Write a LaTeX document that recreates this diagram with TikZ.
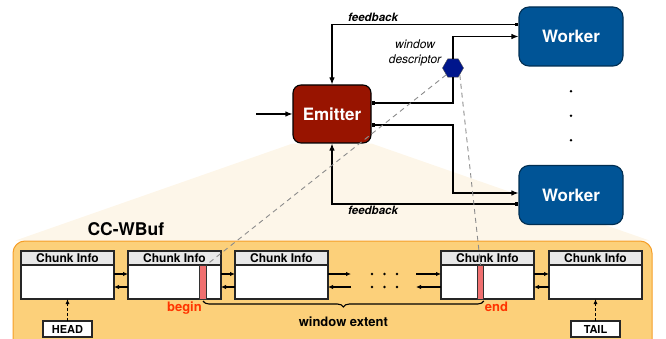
\documentclass[tikz,border=0pt]{standalone}
\usepackage{fontspec}
\setmainfont{TeX Gyre Heros}
\usetikzlibrary{arrows.meta,positioning,shapes.geometric,decorations.pathreplacing,backgrounds,calc}
\definecolor{emitred}{RGB}{152,20,0}
\definecolor{workblue}{RGB}{0,84,150}
\definecolor{descblue}{RGB}{0,22,140}
\definecolor{buforange}{RGB}{252,208,122}
\definecolor{bufline}{RGB}{245,158,40}
\definecolor{fanbeige}{RGB}{253,246,233}
\definecolor{barred}{RGB}{240,112,112}
\definecolor{tagred}{RGB}{255,52,0}
\definecolor{headgray}{RGB}{232,232,232}
\tikzset{
  box/.style={draw=black, line width=1.1pt, rounded corners=8pt, text=white,
    font=\fontsize{17}{20}\selectfont\bfseries, inner sep=0pt},
  emit/.style={box, fill=emitred, minimum width=78pt, minimum height=58pt},
  work/.style={box, fill=workblue, draw=workblue!55!black, rounded corners=10pt,
    minimum width=104pt, minimum height=59pt},
  fbtext/.style={font=\fontsize{11.5}{13}\selectfont\bfseries\itshape, inner sep=2pt},
  desclabel/.style={font=\fontsize{12}{15}\selectfont\itshape, align=center},
  arrow/.style={line width=1.1pt, -{Latex[length=7pt,width=5.5pt]}},
  sqarrow/.style={line width=1.1pt, {Square[length=3.5pt,width=3.5pt]}-{Latex[length=7pt,width=5.5pt]}},
  sqline/.style={line width=1.1pt, {Square[length=3.5pt,width=3.5pt]}-},
  link/.style={line width=1.1pt, -{Latex[length=5pt,width=4.5pt]}},
  pointer/.style={draw=black!45, line width=0.9pt, dash pattern=on 5pt off 4pt},
  buffer/.style={draw=bufline, fill=buforange, line width=1pt, rounded corners=12pt,
    minimum width=639pt, minimum height=114pt},
  chunkhead/.style={draw=black!85, fill=headgray, line width=1.1pt, minimum width=93pt,
    minimum height=14pt, inner sep=0pt, outer sep=0pt, font=\fontsize{12}{12}\selectfont\bfseries},
  chunkbody/.style={draw=black!85, fill=white, line width=1.1pt, minimum width=93pt,
    minimum height=34pt, inner sep=0pt, outer sep=0pt},
  redbar/.style={draw=black!80, fill=barred, line width=0.9pt, minimum width=6.5pt,
    minimum height=34pt, inner sep=0pt, outer sep=0pt},
  tag/.style={text=tagred, font=\fontsize{13}{13}\selectfont\bfseries, inner sep=1pt},
  ptrbox/.style={draw=black!85, fill=white, line width=1.1pt, minimum width=49pt,
    minimum height=16pt, inner sep=0pt, outer sep=0pt, font=\fontsize{11}{11}\selectfont\bfseries},
  ptrarrow/.style={line width=1pt, densely dashed, -{Latex[length=5pt,width=4pt]}},
  title/.style={font=\fontsize{17.5}{18}\selectfont\bfseries}
}

\begin{document}
\begin{tikzpicture}[x=1pt, y=-1pt]
  \clip (0,0) rectangle (666,339);

  % buffer and the part that belongs to the emitter
  \node[buffer] (buf) at (332.5,298) {};
  \node[title, anchor=west] (title) at (84,229) {CC-WBuf};

  % farm
  \node[emit] (emitter) at (332,114) {Emitter};
  \node[work] (worker1) at (571,36.5) {Worker};
  \node[work] (worker2) at (571,195) {Worker};
  \node[regular polygon, regular polygon sides=6, fill=descblue, draw=black!70,
        minimum size=21pt, inner sep=0pt] (desc) at (453,68) {};
  \node[desclabel] (desctext) at (415,53) {window\\descriptor};

  \begin{scope}[on background layer]
    \fill[fanbeige] (emitter.south west) -- (emitter.south east)
      -- ([xshift=-3pt]buf.north east) -- ([xshift=3pt]buf.north west) -- cycle;
  \end{scope}

  \coordinate (src) at (256,114);
  \draw[arrow] (src) -- (emitter.west);

  \draw[sqline] ([yshift=11pt]emitter.east) -| (desc.south);
  \draw[arrow] (desc.north) |- (worker1.west);
  \coordinate (w2in) at ([yshift=2pt]worker2.west);
  \draw[sqarrow] ([yshift=-11pt]emitter.east) -| (desc |- w2in) -- (w2in);

  \draw[sqarrow] ([yshift=12pt]worker1.west) -| (emitter.north)
    node[pos=0.39, above, fbtext] (fbtop) {feedback};
  \draw[sqarrow] ([yshift=-9pt]worker2.west) -| (emitter.south)
    node[pos=0.39, below, fbtext] (fbbot) {feedback};

  \coordinate (wgap) at ($(worker1.south)!0.5!(worker2.north)$);
  \foreach \dy in {24.5,0,-24.5}
    \fill ([yshift=\dy pt]wgap) circle (1.3pt);

  % chunks
  \node[chunkhead] (h1) at (67.5,258) {Chunk Info};
  \node[chunkhead, right=14pt of h1] (h2) {Chunk Info};
  \node[chunkhead, right=14pt of h2] (h3) {Chunk Info};
  \node[chunkhead, right=113pt of h3] (h4) {Chunk Info};
  \node[chunkhead, right=15pt of h4] (h5) {Chunk Info};
  \foreach \i in {1,...,5}
    \node[chunkbody, below=0pt of h\i] (b\i) {};

  \foreach \a/\b in {1/2,2/3,4/5}{
    \draw[link] ([yshift=8pt]b\a.east) -- ([yshift=8pt]b\b.west);
    \draw[link] ([yshift=-5pt]b\b.west) -- ([yshift=-5pt]b\a.east);
  }
  \coordinate (gapl) at ([xshift=23pt]b3.east);
  \coordinate (gapr) at ([xshift=-25pt]b4.west);
  \draw[link] ([yshift=8pt]b3.east) -- ([yshift=8pt]gapl);
  \draw[link] ([yshift=-5pt]gapl) -- ([yshift=-5pt]b3.east);
  \draw[link] ([yshift=8pt]gapr) -- ([yshift=8pt]b4.west);
  \draw[link] ([yshift=-5pt]b4.west) -- ([yshift=-5pt]gapr);
  \coordinate (gap) at ($(b3.east)!0.5!(b4.west)$);
  \foreach \dx in {-12.5,0,12.5}{
    \fill ([xshift=\dx pt,yshift=8pt]gap) circle (1.3pt);
    \fill ([xshift=\dx pt,yshift=-5pt]gap) circle (1.3pt);
  }

  % window
  \node[redbar, anchor=north] (bar1) at ([xshift=75pt]b2.north west) {};
  \node[redbar, anchor=north] (bar2) at ([xshift=39.5pt]b4.north west) {};
  \node[tag, anchor=north east] (begintag) at ([yshift=-2pt]bar1.south) {begin};
  \node[tag, anchor=north west] (endtag) at ([yshift=-2pt]bar2.south east) {end};
  \draw[line width=1.1pt, decorate, decoration={brace, mirror, amplitude=6pt}]
    ([yshift=-2pt]bar1.south) -- ([yshift=-2pt]bar2.south east);
  \path (bar1.south) -- (bar2.south east)
    node[midway, yshift=-23pt, font=\fontsize{13}{13}\selectfont\bfseries] (extent) {window extent};

  % head / tail
  \node[ptrbox, below=22pt of b1] (head) {HEAD};
  \node[ptrbox, below=22pt of b5] (tail) {TAIL};
  \draw[ptrarrow] (head.north) -- (b1.south);
  \draw[ptrarrow] (tail.north) -- (b5.south);

  \draw[pointer] (desc.south west) -- (bar1.north east);
  \draw[pointer] (desc.south east) -- (bar2.north);
\end{tikzpicture}
\end{document}
